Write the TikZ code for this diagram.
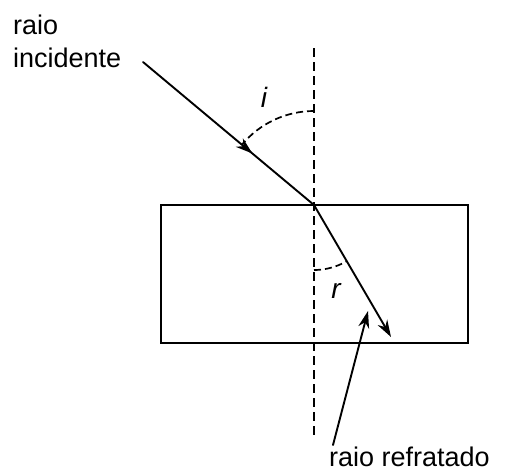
\documentclass[tikz,border=0pt]{standalone}
\usepackage{fontspec}
\setmainfont{Liberation Sans}
\usetikzlibrary{arrows.meta,decorations.markings}
\begin{document}
\begin{tikzpicture}[x=1pt,y=-1pt,
  ray/.style={line width=1.9pt,line cap=round},
  normalline/.style={line width=1.7pt,dash pattern=on 9pt off 5pt},
  anglearc/.style={line width=1.7pt,dash pattern=on 7pt off 4pt},
  tip/.style={-{Stealth[length=17pt,width=11pt]}},
  lbl/.style={font=\fontsize{27}{31}\selectfont,inner sep=0pt},
  anglelbl/.style={font=\fontsize{28}{31}\selectfont\itshape,inner sep=0pt}]
\useasboundingbox (0,0) rectangle (505,472);
\coordinate (A) at (143,62);
\coordinate (O) at (314,205);
\coordinate (B) at (391,337);
\coordinate (Ntop) at (314,48);
\coordinate (Nbot) at (314,435);
\coordinate (P) at (333,445);
\coordinate (Q) at (368,311);
% block
\draw[line width=1.9pt] (161,205) rectangle (468,343);
% normal
\draw[normalline] (Ntop) -- (Nbot);
% incident ray
\draw[ray,decoration={markings,mark=at position 0.64 with {\arrow{Stealth[length=17pt,width=11pt]}}},postaction={decorate}] (A) -- (O);
% refracted ray
\draw[ray,tip] (O) -- (B);
% angle arcs
\draw[anglearc] (314,111) arc[start angle=-90,end angle=-140,radius=94];
\draw[anglearc] (314,270) arc[start angle=90,end angle=59.5,radius=65];
% labels
\node[lbl,anchor=base west] (t1) at (13,34) {raio};
\node[lbl,anchor=base west] (t2) at (13,67) {incidente};
\node[anglelbl,anchor=base] (li) at (264,107) {i};
\node[anglelbl,anchor=base] (lr) at (336,298) {r};
\node[lbl,anchor=base west] (t3) at (329,466) {raio refratado};
\draw[ray,tip] (P) -- (Q);
\end{tikzpicture}
\end{document}
